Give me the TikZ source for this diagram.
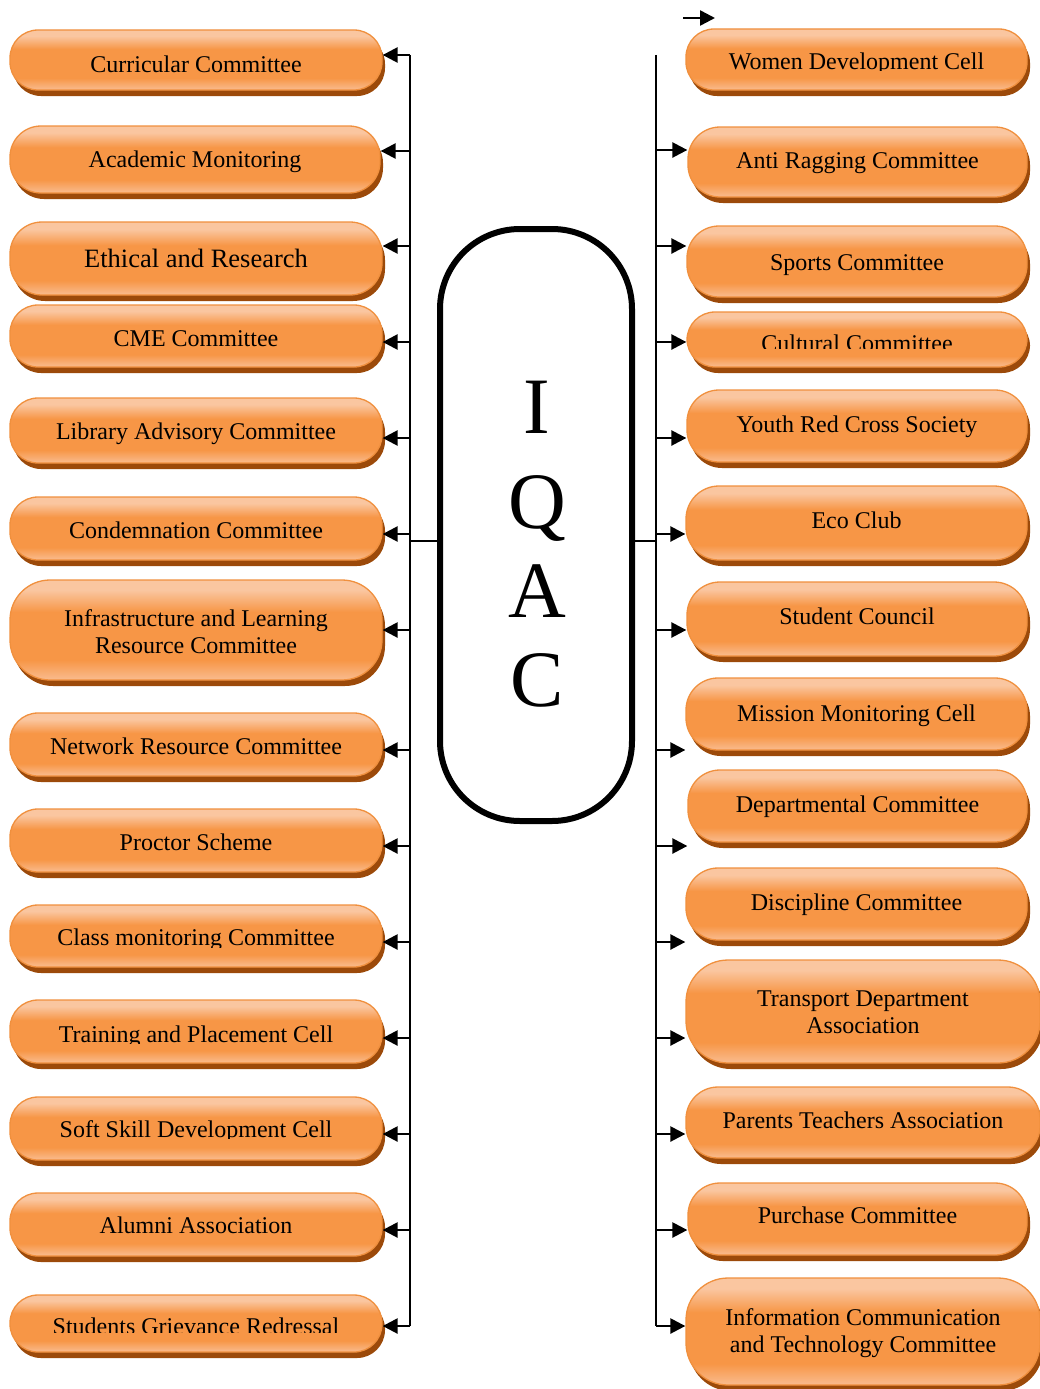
\documentclass[tikz,border=0pt]{standalone}
\usepackage{fontspec}
\setmainfont{Liberation Serif}
\usetikzlibrary{arrows.meta,shadows}
\definecolor{otop}{HTML}{FAC6A0}
\definecolor{omid}{HTML}{F79646}
\definecolor{obot}{HTML}{F9B888}
\definecolor{oborder}{HTML}{F0903E}
\definecolor{oshadow}{HTML}{9C4A0A}
\pgfdeclareverticalshading{oshade}{100bp}{color(0bp)=(obot); color(26bp)=(obot); color(35bp)=(omid); color(59bp)=(omid); color(70bp)=(otop); color(100bp)=(otop)}
\tikzset{
  obox/.style={rectangle, rounded corners=#1, draw=oborder, line width=1.3pt,
    shading=oshade, inner sep=0pt,
    drop shadow={shadow xshift=3pt, shadow yshift=-6pt, fill=oshadow, opacity=1}},
  obox/.default=28pt,
  lbl/.style={inner sep=0pt, text=black, align=center, font=\fontsize{24}{27}\selectfont},
  letter/.style={inner sep=0pt, anchor=base, font=\fontsize{80}{92}\selectfont},
  bus/.style={line width=2pt, draw=black},
  link/.style={line width=1.5pt, draw=black},
  arr/.style={line width=2.5pt, draw=black, -{Triangle[length=15pt,width=15pt]}},
  iqacbox/.style={rectangle, draw=black, line width=6pt, rounded corners=80pt, inner sep=0pt}
}
\newcommand\obox[8][28pt]{%
  \node[obox=#1, minimum width={(#5-#3)*1pt}, minimum height={(#6-#4)*1pt}] (#2) at ({(#3+#5)/2},{(#4+#6)/2}) {};
  \node[lbl, anchor=base] (#2t) at ({(#3+#5)/2},#7) {#8};}
\newcommand\oboxcut[9][28pt]{%
  \node[obox=#1, minimum width={(#5-#3)*1pt}, minimum height={(#6-#4)*1pt}] (#2) at ({(#3+#5)/2},{(#4+#6)/2}) {};
  \begin{scope}\clip (#3,#4) rectangle (#5,#9);
  \node[lbl, anchor=base] (#2t) at ({(#3+#5)/2},#7) {#8};\end{scope}}
\begin{document}
\begin{tikzpicture}[x=1pt,y=-1pt]
\useasboundingbox (0,0) rectangle (1040,1389);
\clip (0,0) rectangle (1040,1389);
\fill[white] (0,0) rectangle (1040,1389);
% left boxes
\obox{L1}{10}{30}{382}{90}{72}{Curricular Committee}
\obox[31pt]{L2}{10}{126}{380}{193}{167}{Academic Monitoring}
\obox[32pt]{L3}{10}{222}{382}{295}{267}{\fontsize{26.5}{30}\selectfont Ethical and Research}
\obox{L4}{10}{305}{382}{367}{346}{CME Committee}
\obox{L5}{10}{398}{382}{463}{439}{Library Advisory Committee}
\obox{L6}{10}{497}{382}{560}{538}{Condemnation Committee}
\obox[40pt]{L7}{10}{580}{382}{680}{653}{Infrastructure and Learning\\Resource Committee}
\obox{L8}{10}{713}{382}{776}{754}{Network Resource Committee}
\obox{L9}{10}{809}{382}{872}{850}{Proctor Scheme}
\oboxcut{L10}{10}{905}{382}{967}{945}{Class monitoring Committee}{947}
\oboxcut{L11}{10}{1000}{382}{1063}{1042}{Training and Placement Cell}{1043}
\oboxcut{L12}{10}{1097}{382}{1160}{1137}{Soft Skill Development Cell}{1138}
\obox{L13}{10}{1193}{382}{1256}{1233}{Alumni Association}
\oboxcut{L14}{10}{1295}{382}{1352}{1334}{Students Grievance Redressal}{1332}
% right boxes
\oboxcut{R1}{686}{29}{1027}{90}{70}{Women Development Cell}{71}
\obox[32pt]{R2}{688}{127}{1027}{197}{168}{Anti Ragging Committee}
\obox[32pt]{R3}{687}{226}{1027}{297}{270}{Sports Committee}
\oboxcut{R4}{687}{312}{1027}{367}{351}{Cultural Committee}{348}
\obox[32pt]{R5}{687}{390}{1027}{462}{432}{Youth Red Cross Society}
\obox[33pt]{R6}{686}{486}{1027}{560}{528}{Eco Club}
\obox[33pt]{R7}{687}{582}{1027}{656}{624}{Student Council}
\obox[32pt]{R8}{686}{678}{1027}{750}{721}{Mission Monitoring Cell}
\obox[32pt]{R9}{688}{770}{1027}{842}{812}{Departmental Committee}
\obox[32pt]{R10}{686}{868}{1027}{940}{910}{Discipline Committee}
\obox[42pt]{R11}{686}{960}{1040}{1063}{1033}{Transport Department\\Association}
\obox[32pt]{R12}{686}{1087}{1040}{1158}{1128}{Parents Teachers Association}
\obox[32pt]{R13}{688}{1183}{1027}{1255}{1223}{Purchase Committee}
\obox[42pt]{R14}{686}{1278}{1040}{1385}{1352}{Information Communication\\and Technology Committee}
% IQAC
\node[iqacbox, minimum width=192pt, minimum height=592pt] (iqac) at (536,525) {};
\node[letter] (qI) at (537,433) {I};
\node[letter] (qQ) at (537,528) {Q};
\node[letter] (qA) at (537,617) {A};
\node[letter] (qC) at (537,706) {C};
% buses
\foreach \i/\y in {1/55,2/151,3/246,4/342,5/438,6/534,7/630,8/750,9/846,10/942,11/1038,12/1134,13/1230,14/1326}{
  \coordinate (lb\i) at (410,\y);
}
\foreach \i/\y in {2/150,3/246,4/342,5/438,6/534,7/630,8/750,9/846,10/942,11/1038,12/1134,13/1230,14/1326}{
  \coordinate (rb\i) at (656,\y);
}
\coordinate (rtop) at (656,55);
\coordinate (lj) at (410,541);
\coordinate (rj) at (656,541);
\draw[bus] (lb1) -- (lb14);
\draw[bus] (rtop) -- (rb14);
\draw[link] (lj) -- (lj -| iqac.west);
\draw[link] (iqac.east |- rj) -- (rj);
\foreach \i in {1,...,14}{
  \draw[arr] (lb\i) -- (lb\i -| L\i.east);
}
\foreach \i in {2,...,14}{
  \draw[arr] (rb\i) -- (rb\i -| R\i.west);
}
\coordinate (sa) at (683,18);
\coordinate (sb) at (715,18);
\draw[arr] (sa) -- (sb);
\end{tikzpicture}
\end{document}
